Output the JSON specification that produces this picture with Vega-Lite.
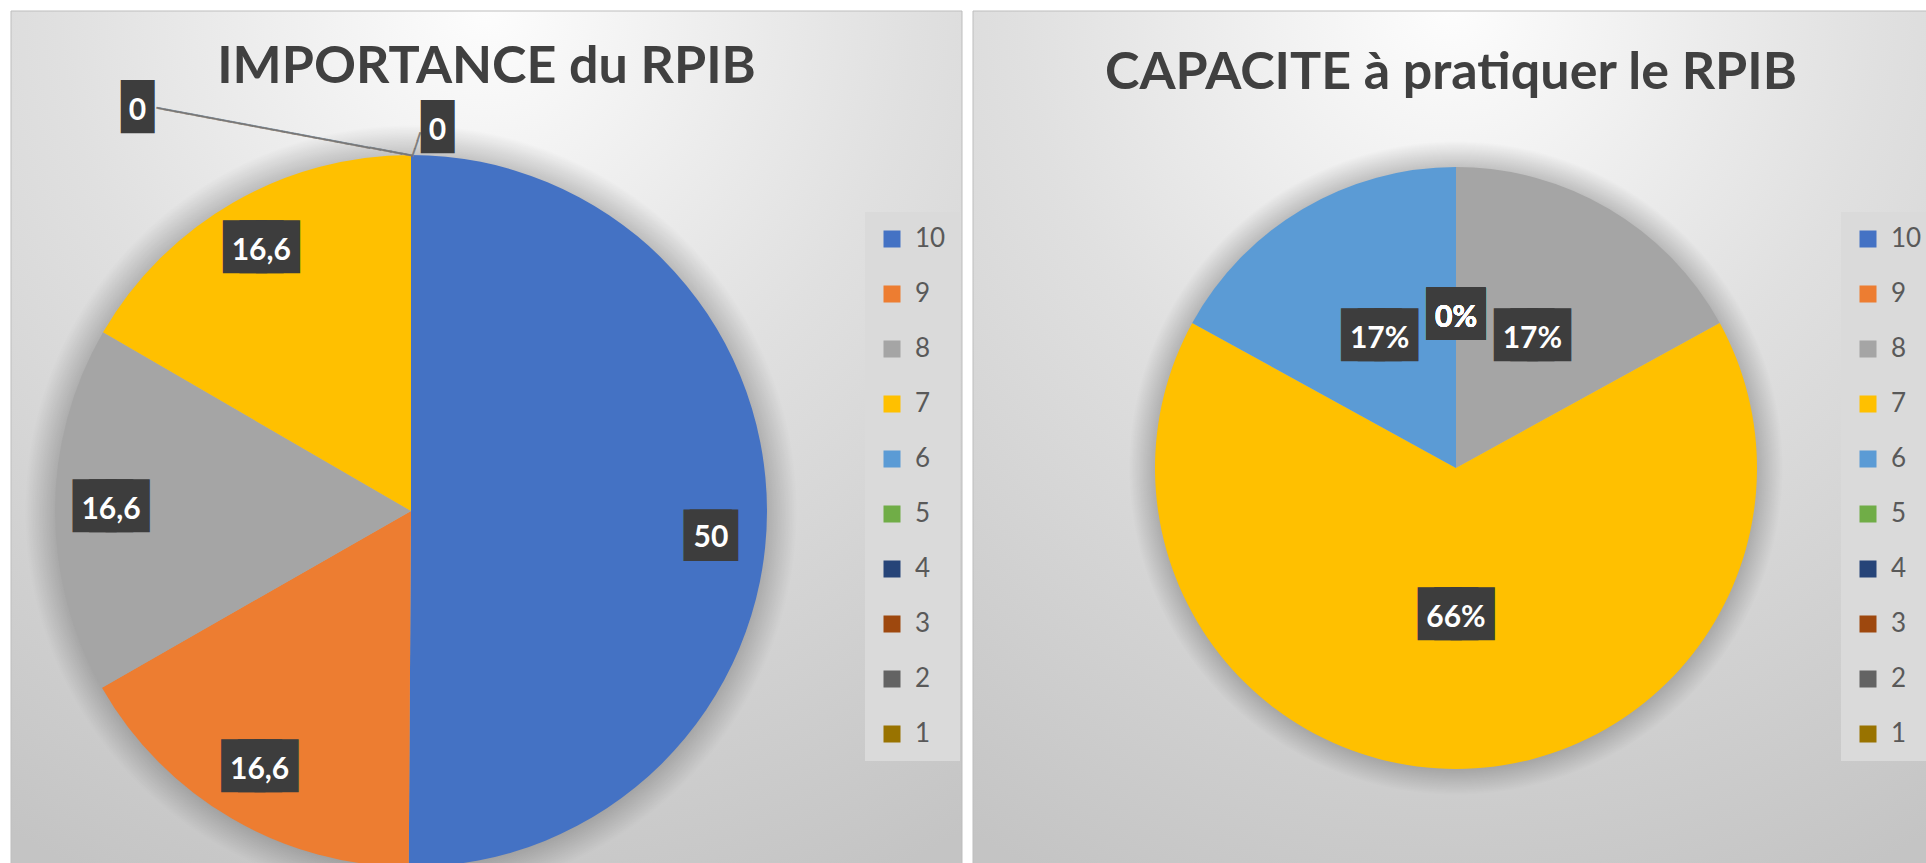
{
  "$schema": "https://vega.github.io/schema/vega-lite/v6.json",
  "background": "white",
  "padding": {"left": 10, "top": 10, "right": 0, "bottom": 0},
  "spacing": 9,
  "config": {
    "view": {"stroke": null},
    "locale": {"number": {"decimal": ",", "thousands": " ", "grouping": [3], "currency": ["", " €"]}},
    "title": {"font": "Lato", "fontWeight": "bold", "color": "#404040", "fontSize": 52, "anchor": "middle", "baseline": "alphabetic"}
  },
  "datasets": {
    "importance": [
      {"cat": 10, "value": 50}, {"cat": 9, "value": 16.6}, {"cat": 8, "value": 16.6}, {"cat": 7, "value": 16.6},
      {"cat": 6, "value": 0}, {"cat": 5, "value": 0}, {"cat": 4, "value": 0}, {"cat": 3, "value": 0}, {"cat": 2, "value": 0}, {"cat": 1, "value": 0}
    ],
    "capacite": [
      {"cat": 10, "value": 0}, {"cat": 9, "value": 0}, {"cat": 8, "value": 0.17}, {"cat": 7, "value": 0.66},
      {"cat": 6, "value": 0.17}, {"cat": 5, "value": 0}, {"cat": 4, "value": 0}, {"cat": 3, "value": 0}, {"cat": 2, "value": 0}, {"cat": 1, "value": 0}
    ]
  },
  "resolve": {"scale": {"color": "independent", "theta": "independent"}, "legend": {"color": "independent"}},
  "hconcat": [
    {
      "width": 951, "height": 853,
      "title": {"text": "IMPORTANCE du RPIB", "offset": -83},
      "data": {"name": "importance"},
      "layer": [
        {
          "data": {"values": [{"bg": 1}]},
          "mark": {"type": "rect", "stroke": "#bdbdbd", "strokeWidth": 1,
            "fill": {"gradient": "radial", "x1": 0.5, "y1": 0.05, "r1": 0, "x2": 0.5, "y2": 0.05, "r2": 1.0,
              "stops": [{"offset": 0, "color": "#fdfdfd"}, {"offset": 0.45, "color": "#e0e0e0"}, {"offset": 1, "color": "#c4c4c4"}]}}
        },
        {
          "data": {"values": [{"s": 1}]},
          "mark": {"type": "arc", "radius": 386, "xOffset": -75.5, "yOffset": 73.5,
            "fill": {"gradient": "radial", "x1": 0.5, "y1": 0.5, "r1": 0, "x2": 0.5, "y2": 0.5, "r2": 0.5,
              "stops": [{"offset": 0, "color": "rgba(0,0,0,0.2)"}, {"offset": 0.92, "color": "rgba(0,0,0,0.2)"}, {"offset": 1, "color": "rgba(0,0,0,0)"}]}},
          "encoding": {"theta": {"value": 6.2832}}
        },
        {
          "mark": {"type": "arc", "radius": 356, "xOffset": -75.5, "yOffset": 73.5, "strokeWidth": 0},
          "encoding": {
            "theta": {"field": "value", "type": "quantitative", "stack": true},
            "order": {"field": "cat", "sort": "descending"},
            "color": {"field": "cat", "type": "nominal", "sort": "descending",
              "scale": {"domain": [10, 9, 8, 7, 6, 5, 4, 3, 2, 1],
                "range": ["#4472C4", "#ED7D31", "#A5A5A5", "#FFC000", "#5B9BD5", "#70AD47", "#264478", "#9E480E", "#636363", "#997300"]},
              "legend": {"orient": "none", "legendX": 854, "legendY": 201, "direction": "vertical", "title": null,
                "symbolType": "square", "symbolSize": 289, "symbolStrokeWidth": 0, "labelFont": "Lato", "labelFontSize": 26,
                "labelColor": "#595959", "rowPadding": 29, "padding": 14, "fillColor": "#dadada", "labelOffset": 10}}
          }
        },
        {
          "mark": {"type": "text", "radius": 300, "xOffset": -75.5, "yOffset": 73.5, "dy": -3, "font": "DejaVu Sans", "fontSize": 21.5,
            "fill": "#3d3d3d", "stroke": "#3d3d3d", "strokeWidth": 27.3, "strokeJoin": "miter", "align": "center", "baseline": "middle"},
          "encoding": {
            "theta": {"field": "value", "type": "quantitative", "stack": true},
            "order": {"field": "cat", "sort": "descending"},
            "opacity": {"condition": {"test": "datum.value > 0 && datum.value < 50", "value": 1}, "value": 0},
            "text": {"value": "███"}
          }
        },
        {
          "mark": {"type": "text", "radius": 300, "xOffset": -75.5, "yOffset": 73.5, "dy": 23.8, "font": "DejaVu Sans", "fontSize": 8,
            "fill": "#3d3d3d", "stroke": "#3d3d3d", "strokeWidth": 42.2, "strokeJoin": "miter", "align": "center", "baseline": "middle"},
          "encoding": {
            "theta": {"field": "value", "type": "quantitative", "stack": true},
            "order": {"field": "cat", "sort": "descending"},
            "opacity": {"condition": {"test": "datum.value == 50", "value": 1}, "value": 0},
            "text": {"value": "██"}
          }
        },
        {
          "mark": {"type": "text", "radius": 300, "xOffset": -75.5, "yOffset": 73.5, "font": "Lato", "fontWeight": "bold", "fontSize": 30,
            "fill": "white", "align": "center", "baseline": "middle"},
          "encoding": {
            "theta": {"field": "value", "type": "quantitative", "stack": true},
            "order": {"field": "cat", "sort": "descending"},
            "opacity": {"condition": {"test": "datum.value > 0 && datum.value < 50", "value": 1}, "value": 0},
            "text": {"field": "value", "type": "quantitative", "format": ".3~r"}
          }
        },
        {
          "mark": {"type": "text", "radius": 300, "xOffset": -75.5, "yOffset": 73.5, "dy": 26, "font": "Lato", "fontWeight": "bold", "fontSize": 30,
            "fill": "white", "align": "center", "baseline": "middle"},
          "encoding": {
            "theta": {"field": "value", "type": "quantitative", "stack": true},
            "order": {"field": "cat", "sort": "descending"},
            "opacity": {"condition": {"test": "datum.value == 50", "value": 1}, "value": 0},
            "text": {"field": "value", "type": "quantitative", "format": ".3~r"}
          }
        },
        {
          "transform": [{"filter": "datum.cat == 6"}],
          "mark": {"type": "text", "radius": 300, "xOffset": -75.5, "yOffset": 73.5, "angle": 10.58, "dx": -138.7, "dy": -53.4,
            "font": "DejaVu Sans", "fontSize": 18, "fill": "#777777", "stroke": "#777777", "strokeWidth": 0.5, "align": "center", "baseline": "middle"},
          "encoding": {
            "theta": {"field": "value", "type": "quantitative", "stack": true},
            "text": {"value": "────────────────────────"}
          }
        },
        {
          "transform": [{"filter": "datum.cat == 6"}],
          "mark": {"type": "text", "radius": 300, "xOffset": -75.5, "yOffset": 73.5, "angle": -71.57, "dx": 64.5, "dy": -15.2,
            "font": "DejaVu Sans", "fontSize": 14, "fill": "#777777", "stroke": "#777777", "strokeWidth": 0.5, "align": "center", "baseline": "middle"},
          "encoding": {
            "theta": {"field": "value", "type": "quantitative", "stack": true},
            "text": {"value": "───"}
          }
        },
        {
          "transform": [{"filter": "datum.cat == 6"}],
          "mark": {"type": "text", "radius": 300, "xOffset": -75.5, "yOffset": 73.5, "dx": -268.6, "dy": -102.8, "font": "DejaVu Sans", "fontSize": 24.3,
            "fill": "#3d3d3d", "stroke": "#3d3d3d", "strokeWidth": 24.3, "strokeJoin": "miter", "align": "center", "baseline": "middle"},
          "encoding": {
            "theta": {"field": "value", "type": "quantitative", "stack": true},
            "text": {"value": "▌"}
          }
        },
        {
          "transform": [{"filter": "datum.cat == 6"}],
          "mark": {"type": "text", "radius": 300, "xOffset": -75.5, "yOffset": 73.5, "dx": -273.5, "dy": -99.7, "font": "Lato", "fontWeight": "bold", "fontSize": 30,
            "fill": "white", "align": "center", "baseline": "middle"},
          "encoding": {
            "theta": {"field": "value", "type": "quantitative", "stack": true},
            "text": {"field": "value", "type": "quantitative", "format": ".3~r"}
          }
        },
        {
          "transform": [{"filter": "datum.cat == 5"}],
          "mark": {"type": "text", "radius": 300, "xOffset": -75.5, "yOffset": 73.5, "dx": 31.4, "dy": -82.8, "font": "DejaVu Sans", "fontSize": 24.3,
            "fill": "#3d3d3d", "stroke": "#3d3d3d", "strokeWidth": 24.3, "strokeJoin": "miter", "align": "center", "baseline": "middle"},
          "encoding": {
            "theta": {"field": "value", "type": "quantitative", "stack": true},
            "text": {"value": "▌"}
          }
        },
        {
          "transform": [{"filter": "datum.cat == 5"}],
          "mark": {"type": "text", "radius": 300, "xOffset": -75.5, "yOffset": 73.5, "dx": 26.5, "dy": -79.7, "font": "Lato", "fontWeight": "bold", "fontSize": 30,
            "fill": "white", "align": "center", "baseline": "middle"},
          "encoding": {
            "theta": {"field": "value", "type": "quantitative", "stack": true},
            "text": {"field": "value", "type": "quantitative", "format": ".3~r"}
          }
        }
      ]
    },
    {
      "width": 956, "height": 853,
      "title": {"text": "CAPACITE à pratiquer le RPIB", "offset": -89},
      "data": {"name": "capacite"},
      "layer": [
        {
          "data": {"values": [{"bg": 1}]},
          "mark": {"type": "rect", "stroke": "#bdbdbd", "strokeWidth": 1,
            "fill": {"gradient": "radial", "x1": 0.5, "y1": 0.05, "r1": 0, "x2": 0.5, "y2": 0.05, "r2": 1.0,
              "stops": [{"offset": 0, "color": "#fdfdfd"}, {"offset": 0.45, "color": "#e0e0e0"}, {"offset": 1, "color": "#c4c4c4"}]}}
        },
        {
          "data": {"values": [{"s": 1}]},
          "mark": {"type": "arc", "radius": 327, "xOffset": 5, "yOffset": 30.5,
            "fill": {"gradient": "radial", "x1": 0.5, "y1": 0.5, "r1": 0, "x2": 0.5, "y2": 0.5, "r2": 0.5,
              "stops": [{"offset": 0, "color": "rgba(0,0,0,0.2)"}, {"offset": 0.92, "color": "rgba(0,0,0,0.2)"}, {"offset": 1, "color": "rgba(0,0,0,0)"}]}},
          "encoding": {"theta": {"value": 6.2832}}
        },
        {
          "mark": {"type": "arc", "radius": 301, "xOffset": 5, "yOffset": 30.5, "strokeWidth": 0},
          "encoding": {
            "theta": {"field": "value", "type": "quantitative", "stack": true},
            "order": {"field": "cat", "sort": "descending"},
            "color": {"field": "cat", "type": "nominal", "sort": "descending",
              "scale": {"domain": [10, 9, 8, 7, 6, 5, 4, 3, 2, 1],
                "range": ["#4472C4", "#ED7D31", "#A5A5A5", "#FFC000", "#5B9BD5", "#70AD47", "#264478", "#9E480E", "#636363", "#997300"]},
              "legend": {"orient": "none", "legendX": 868, "legendY": 201, "direction": "vertical", "title": null,
                "symbolType": "square", "symbolSize": 289, "symbolStrokeWidth": 0, "labelFont": "Lato", "labelFontSize": 26,
                "labelColor": "#595959", "rowPadding": 29, "padding": 14, "fillColor": "#dadada", "labelOffset": 10}}
          }
        },
        {
          "mark": {"type": "text", "radius": 150, "xOffset": 5, "yOffset": 30.5, "dy": -3, "font": "DejaVu Sans", "fontSize": 21.5,
            "fill": "#3d3d3d", "stroke": "#3d3d3d", "strokeWidth": 27.3, "strokeJoin": "miter", "align": "center", "baseline": "middle"},
          "encoding": {
            "theta": {"field": "value", "type": "quantitative", "stack": true},
            "order": {"field": "cat", "sort": "descending"},
            "opacity": {"condition": {"test": "datum.value > 0", "value": 1}, "value": 0},
            "text": {"value": "███"}
          }
        },
        {
          "mark": {"type": "text", "radius": 150, "xOffset": 5, "yOffset": 30.5, "dy": -2.8, "font": "DejaVu Sans", "fontSize": 18,
            "fill": "#3d3d3d", "stroke": "#3d3d3d", "strokeWidth": 31.2, "strokeJoin": "miter", "align": "center", "baseline": "middle"},
          "encoding": {
            "theta": {"field": "value", "type": "quantitative", "stack": true},
            "order": {"field": "cat", "sort": "descending"},
            "opacity": {"condition": {"test": "datum.value == 0", "value": 1}, "value": 0},
            "text": {"value": "██"}
          }
        },
        {
          "mark": {"type": "text", "radius": 150, "xOffset": 5, "yOffset": 30.5, "font": "Lato", "fontWeight": "bold", "fontSize": 30,
            "fill": "white", "align": "center", "baseline": "middle"},
          "encoding": {
            "theta": {"field": "value", "type": "quantitative", "stack": true},
            "order": {"field": "cat", "sort": "descending"},
            "text": {"field": "value", "type": "quantitative", "format": ".0%"}
          }
        }
      ]
    }
  ]
}
